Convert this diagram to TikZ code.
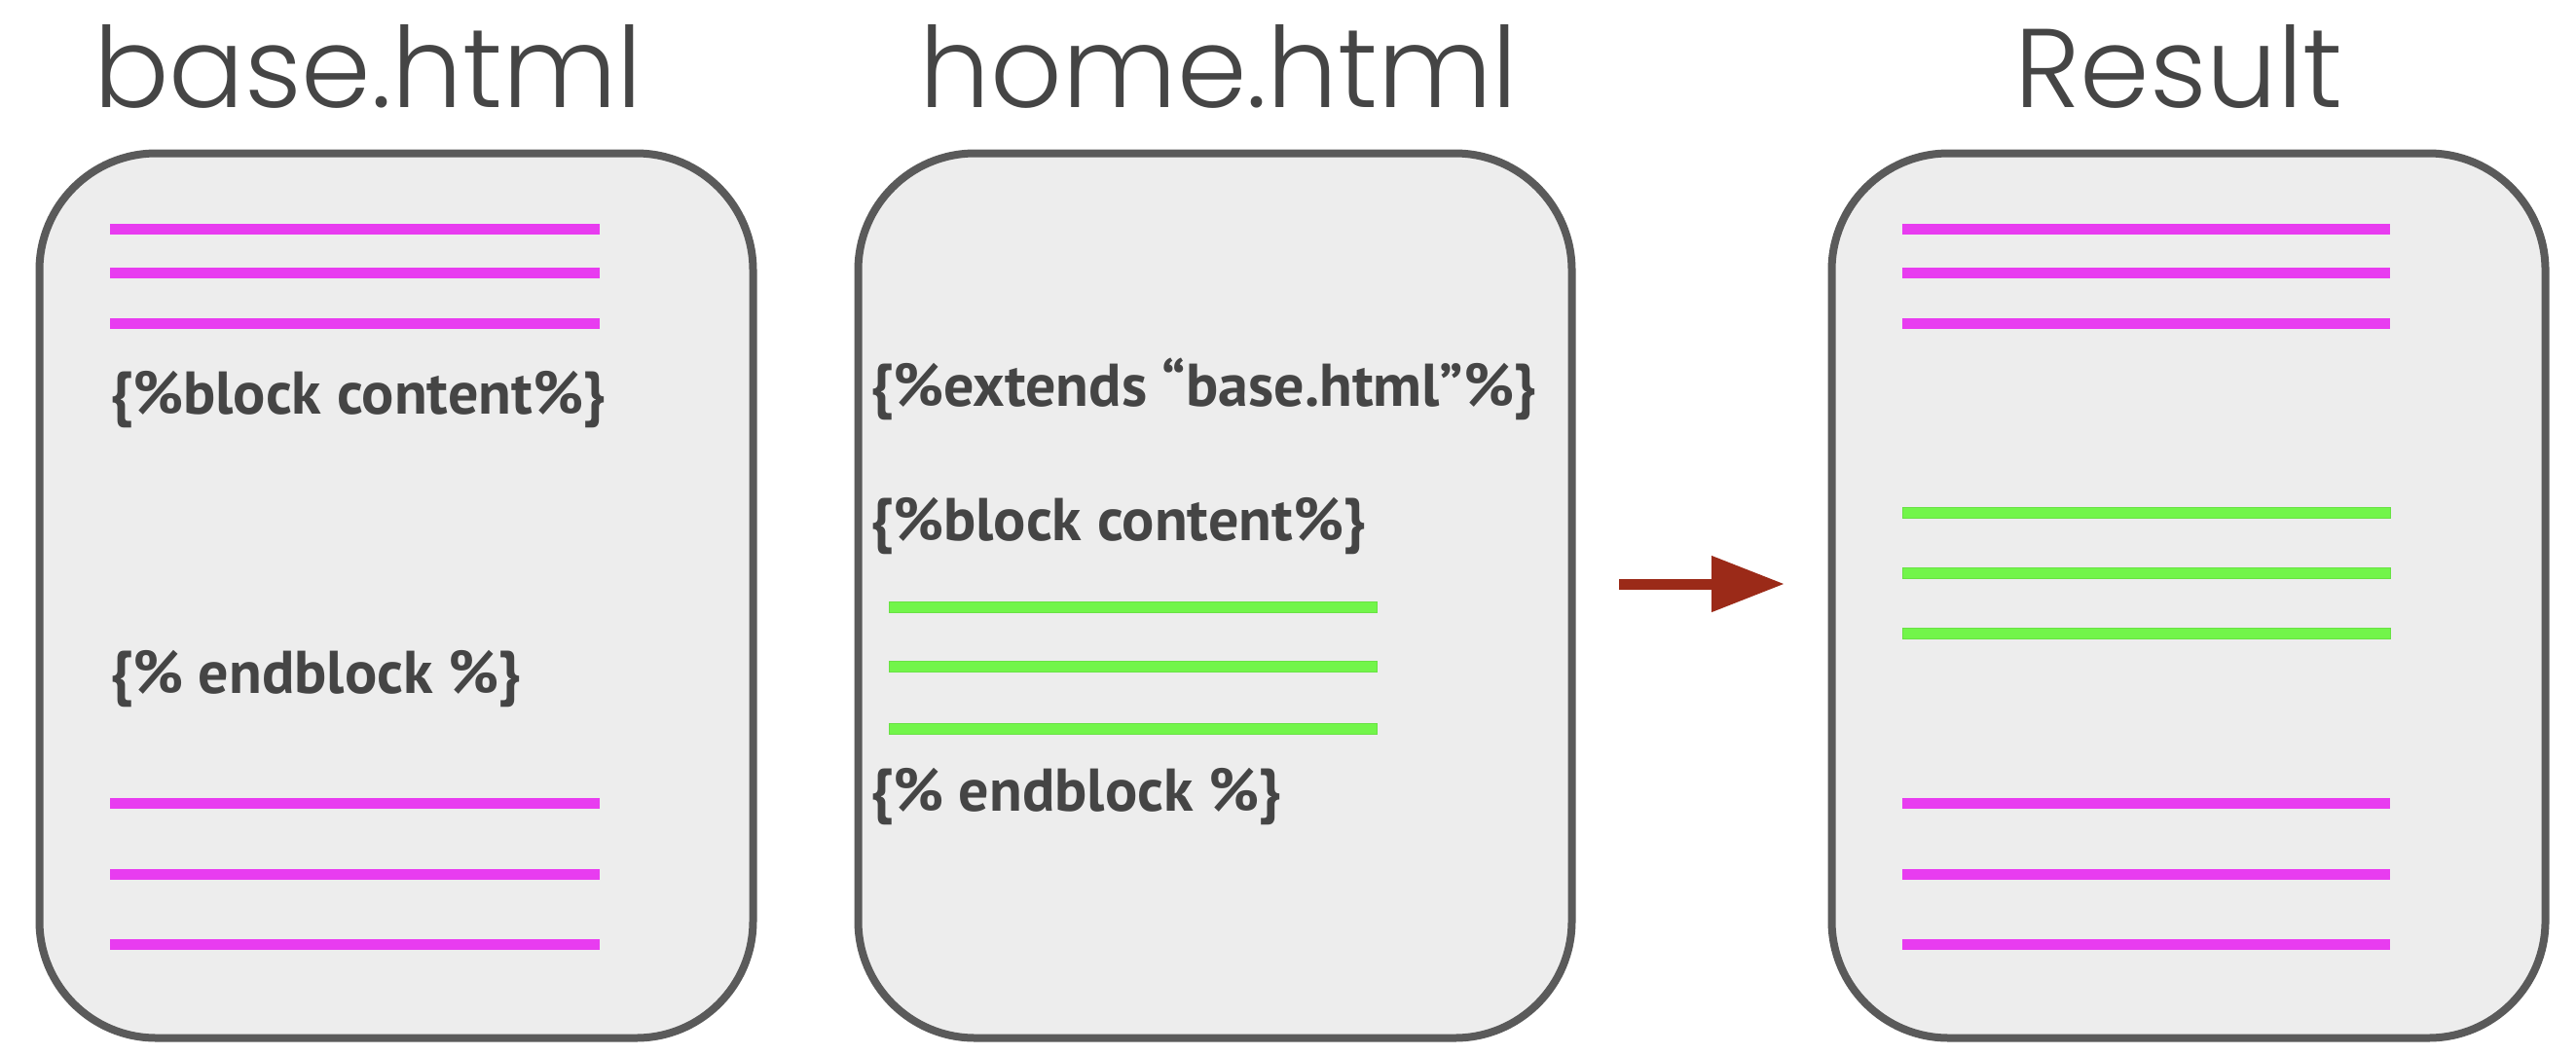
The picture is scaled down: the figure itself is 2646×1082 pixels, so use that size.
\documentclass[tikz,border=0pt]{standalone}
\usepackage{fontspec}
\setmainfont{PT Sans}
\newfontfamily\titlefont{Poppins Light}
\usetikzlibrary{arrows.meta}
\definecolor{boxborder}{HTML}{5A5A5A}
\definecolor{boxfill}{HTML}{EDEDED}
\definecolor{magline}{HTML}{E83CF0}
\definecolor{grnline}{HTML}{72F54A}
\definecolor{txtgray}{HTML}{454545}
\definecolor{arrred}{HTML}{9B2A18}
\tikzset{
  docbox/.style={draw=boxborder, fill=boxfill, line width=8pt, rounded corners=120pt,
    minimum width=733pt, minimum height=909pt, inner sep=0pt},
  title/.style={font=\titlefont\fontsize{115}{120}\selectfont, text=txtgray, anchor=base, inner sep=0pt},
  code/.style={font=\fontsize{62}{70}\selectfont\bfseries, text=txtgray, anchor=west, inner sep=0pt},
  mag/.style={draw=magline, line width=11pt},
  grn/.style={draw=grnline!92!black, fill=grnline, line width=0.8pt},
  bigarrow/.style={draw=arrred, line width=11pt, -{Triangle[length=75pt,width=55pt]}},
}
\newcommand{\gbar}[3]{\filldraw[grn] (#1,#3+5.5) rectangle (#2,#3-5.5);}
\begin{document}
\begin{tikzpicture}[x=1pt,y=-1pt]
\useasboundingbox[fill=white] (0,0) rectangle (2646,1082);
% boxes
\node[docbox] (base) at (407,612) {};
\node[docbox] (home) at (1248,612) {};
\node[docbox] (result) at (2248,612) {};
% titles
\node[title] (tbase) at (378,110) {base.html};
\node[title] (thome) at (1252,110) {home.html};
\node[title] (tres) at (2238,110) {Result};
% base.html content
\foreach \y in {235,280,332,825,898,970} \draw[mag] (113,\y) -- (616,\y);
\node[code] (b1) at (113,410) {\{\%block content\%\}};
\node[code] (b2) at (113,697) {\{\% endblock \%\}};
% home.html content
\node[code] (h1) at (894,400) {\{\%extends “base.html”\%\}};
\node[code] (h2) at (894,540) {\{\%block content\%\}};
\foreach \y in {624,685,749} {\gbar{913}{1414}{\y}}
\node[code] (h3) at (894,818) {\{\% endblock \%\}};
% result content
\foreach \y in {235,280,332,825,898,970} \draw[mag] (1954,\y) -- (2455,\y);
\foreach \y in {527,589,651} {\gbar{1954}{2455}{\y}}
% arrow
\coordinate (a1) at (1663,600);
\coordinate (a2) at (1833,600);
\draw[bigarrow] (a1) -- (a2);
\end{tikzpicture}
\end{document}
